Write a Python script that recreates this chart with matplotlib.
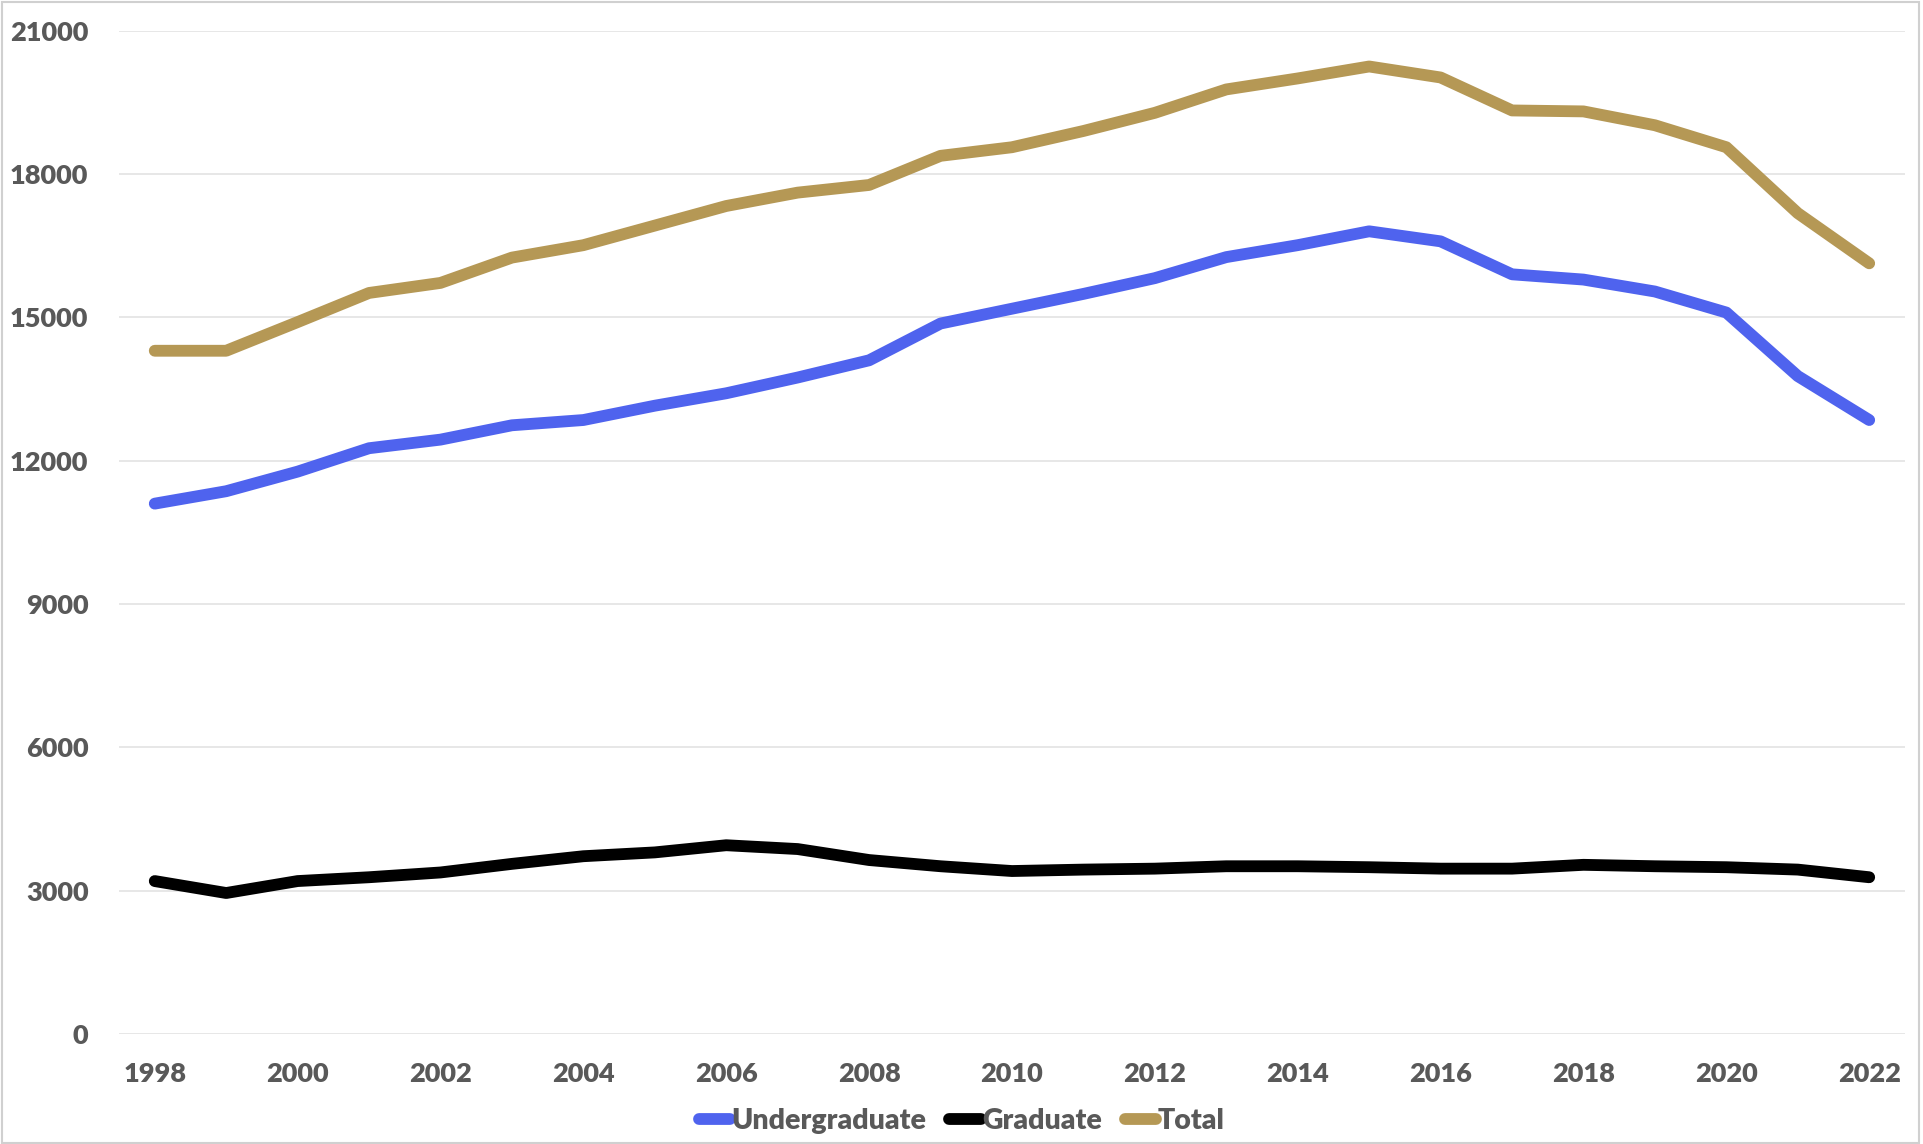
import numpy as np
import matplotlib
matplotlib.use("Agg")
import matplotlib.pyplot as plt
from matplotlib.patches import Rectangle

years = list(range(1998, 2023))

undergraduate = [11100, 11360, 11770, 12260, 12440, 12740, 12850, 13150, 13410, 13740,
                 14100, 14870, 15180, 15490, 15820, 16260, 16510, 16800, 16590, 15900,
                 15790, 15540, 15100, 13770, 12850]
graduate = [3200, 2950, 3200, 3280, 3380, 3560, 3720, 3800, 3950, 3870,
            3640, 3510, 3410, 3440, 3460, 3510, 3510, 3490, 3460, 3460,
            3540, 3510, 3490, 3440, 3280]
total = [14300, 14300, 14900, 15510, 15720, 16250, 16510, 16920, 17330, 17610,
         17770, 18380, 18560, 18900, 19280, 19770, 20000, 20250, 20020, 19330,
         19310, 19020, 18560, 17180, 16130]

y_ticks = [0, 3000, 6000, 9000, 12000, 15000, 18000, 21000]
x_ticks = list(range(1998, 2023, 2))

text_color = "#595959"
plt.rcParams["font.family"] = ["Lato", "DejaVu Sans"]

fig = plt.figure(figsize=(19.23, 11.44), dpi=100)
ax = fig.add_axes([0.0619, 0.0962, 0.9287, 0.877])

line_kw = dict(linewidth=8.5, solid_capstyle="round", solid_joinstyle="round")
ax.plot(years, undergraduate, color="#4F63EE", label="Undergraduate", **line_kw)
ax.plot(years, graduate, color="#000000", label="Graduate", **line_kw)
ax.plot(years, total, color="#B59855", label="Total", **line_kw)

ax.set_xlim(1997.5, 2022.5)
ax.set_ylim(0, 21000)
ax.set_yticks(y_ticks)
ax.set_xticks(x_ticks)
ax.grid(axis="y", color="#e3e3e3", linewidth=1.2)
ax.set_axisbelow(True)
for side in ["top", "right", "left", "bottom"]:
    ax.spines[side].set_visible(False)
ax.tick_params(length=0, labelsize=19.5, colors=text_color)
ax.tick_params(axis="x", pad=20)
ax.tick_params(axis="y", pad=22)
for lab in ax.get_xticklabels() + ax.get_yticklabels():
    lab.set_fontweight("heavy")

leg = fig.legend(loc="center", bbox_to_anchor=(0.5, 0.02), ncol=3, frameon=False,
                 fontsize=20.5, handlelength=1.1, handletextpad=0.05, columnspacing=0.8)
for t in leg.get_texts():
    t.set_color(text_color)
    t.set_fontweight("heavy")

# light frame round the whole chart
fig.patches.append(Rectangle((0.001, 0.001), 0.997, 0.997, transform=fig.transFigure,
                             fill=False, edgecolor="#d0d0d0", linewidth=1.5))

fig.savefig("out.png", dpi=100)
